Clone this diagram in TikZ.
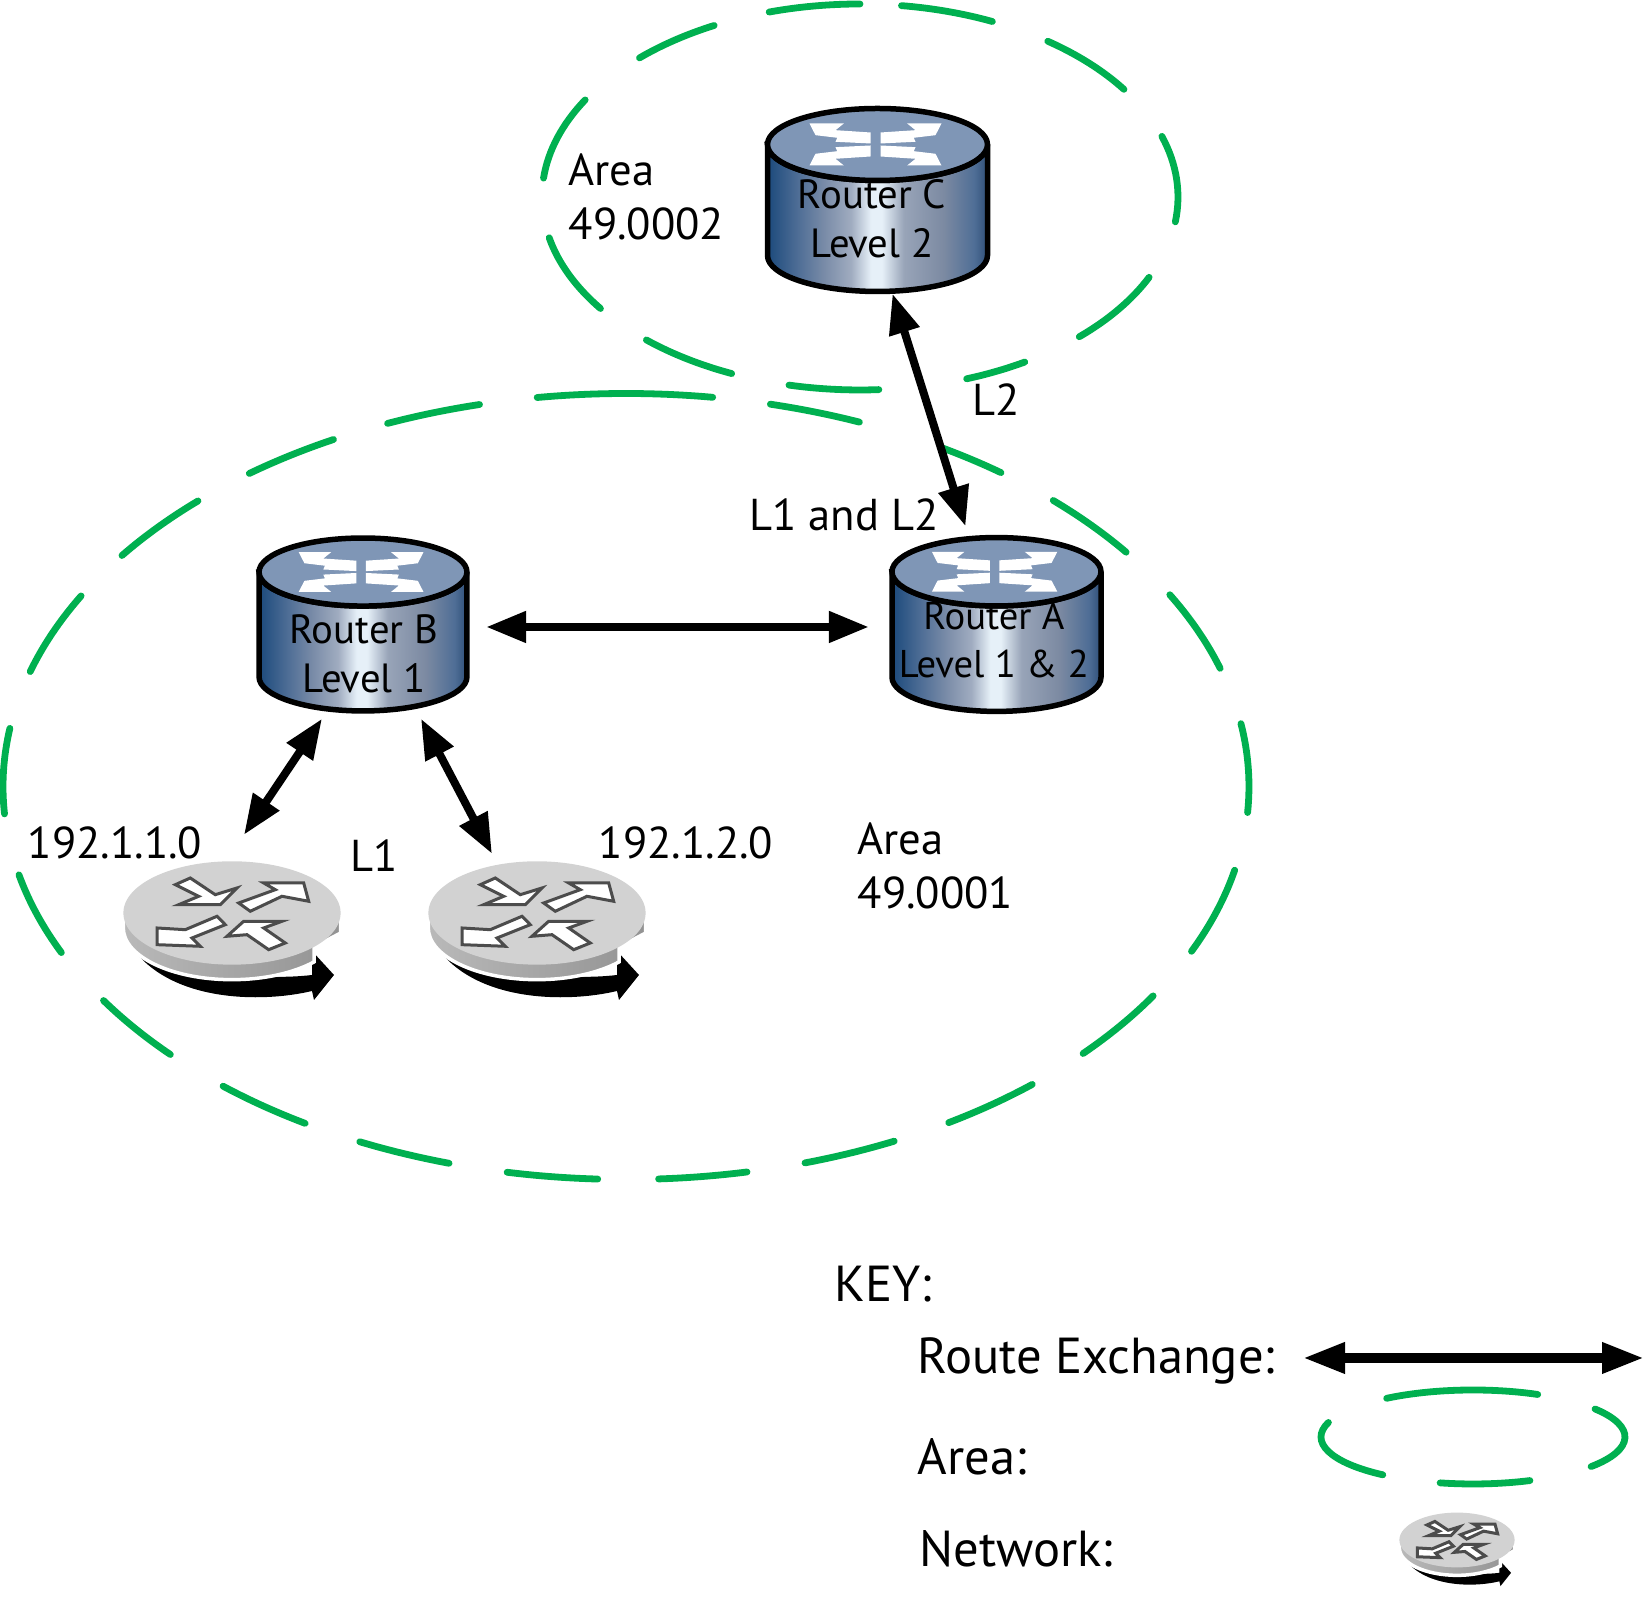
\documentclass[tikz,border=0pt]{standalone}
\usepackage{fontspec}
\setmainfont{PT Sans}
\usetikzlibrary{arrows.meta}

\definecolor{areagreen}{HTML}{00B050}
\definecolor{routertop}{HTML}{7F96B6}
\definecolor{bodya}{HTML}{1C4A7C}
\definecolor{bodyb}{HTML}{4F6E96}
\definecolor{bodyc}{HTML}{7A8CA8}
\definecolor{bodyd}{HTML}{A0ACC0}
\definecolor{bodye}{HTML}{E6F0F8}
\definecolor{bodyf}{HTML}{98A4B8}
\definecolor{bodyg}{HTML}{7C8AA2}
\definecolor{bodyh}{HTML}{2F4F78}
\pgfdeclarehorizontalshading{routerbody}{100bp}{color(0bp)=(bodya); color(25bp)=(bodya); color(32bp)=(bodyb); color(38bp)=(bodyc); color(44bp)=(bodyd); color(48.5bp)=(bodye); color(51bp)=(bodye); color(56bp)=(bodyf); color(65bp)=(bodyg); color(72bp)=(bodyb); color(75bp)=(bodyh); color(100bp)=(bodyh)}

\tikzset{
  arealine/.style={areagreen,line width=.068cm,line cap=round},
  exchange/.style={line width=.08cm,{Triangle[length=.4cm,width=.3cm]}-{Triangle[length=.4cm,width=.3cm]}},
  routerbox/.style={inner sep=0pt,minimum width=2.2cm,minimum height=1.83cm},
  netbox/.style={inner sep=0pt,minimum width=2.2cm,minimum height=1.35cm},
  routertext/.style={align=center,font=\fontsize{11.6}{13.9}\selectfont},
  labeltext/.style={align=left,anchor=west,inner sep=0pt,font=\fontsize{12.7}{15.6}\selectfont},
  keytext/.style={anchor=west,inner sep=0pt,font=\fontsize{14.4}{18}\selectfont},
  router/.pic={
    \draw[line width=.055cm,shading=routerbody] (-1.1,.555) -- (-1.1,-.555) arc (180:360:1.1cm and .36cm) -- (1.1,.555) arc (0:-180:1.1cm and .36cm) -- cycle;
    \draw[line width=.055cm,fill=routertop] (0,.555) ellipse (1.1cm and .36cm);
    \foreach \sx/\sy in {1/1,-1/1,1/-1,-1/-1}
      \fill[white,shift={(-.02,.555)},xscale=\sx,yscale=\sy] (-.66,.21) -- (-.317,.21) -- (-.4,.143) -- (-.05,.12) -- (-.05,.01) -- (-.4,.027) -- (-.383,.067) -- (-.6,.093) -- cycle;
  },
  network/.pic={
    \fill[black] (-1.03,-.3) .. controls (-.5,-.6) and (.3,-.68) .. (.8,-.62) -- (.8,-.38) -- (1.02,-.62) -- (.82,-.87) -- (.8,-.78) .. controls (.3,-.9) and (-.65,-.9) .. (-1.03,-.3) -- cycle;
    \draw[white,line width=.035cm,left color=gray!55,right color=gray!85] (-1.087,0) -- (-1.087,-.15) arc (180:319:1.087cm and .517cm) -- (.82,-.34) -- (1.087,-.2) -- (1.087,0) -- cycle;
    \fill[gray!35] (0,0) ellipse (1.087cm and .517cm);
    \draw[black!70,fill=white,line width=.03cm] (-.567,.283) -- (-.417,.35) -- (-.167,.183) -- (.05,.25) -- (-.117,.083) -- (-.533,.083) -- (-.333,.167) -- cycle;
    \draw[black!70,fill=white,line width=.03cm] (.067,.1) -- (.433,.233) -- (.317,.3) -- (.717,.3) -- (.767,.117) -- (.5,.167) -- (.183,.017) -- cycle;
    \draw[black!70,fill=white,line width=.03cm] (-.15,-.033) -- (-.067,-.117) -- (-.4,-.25) -- (-.317,-.333) -- (-.75,-.317) -- (-.75,-.15) -- (-.467,-.167) -- cycle;
    \draw[black!70,fill=white,line width=.03cm] (-.05,-.233) -- (.117,-.083) -- (.5,-.083) -- (.317,-.15) -- (.533,-.3) -- (.367,-.367) -- (.15,-.217) -- cycle;
  }
}

\begin{document}
\begin{tikzpicture}
\useasboundingbox (0,0) rectangle (16.44,16.02);
% areas
\foreach \a/\b in {98.2/82,76.6/68,59.4/53,46.7/36.6,29.2/17.5,9.2/-3.8,-12.3/-24.8,-32.2/-42.8,-49.3/-58.8,-64.5/-73.3,-78.8/-87,-92.6/-101,-106.5/-115.3,-121/-130.3,-137/-147,-155/-167,-176/-188.5,-197/-209,-216/-226.6,-232.8/-242,-247.5/-256.4}
    \draw[arealine] (6.26,8.155) ++(\a:6.23cm and 3.93cm) arc (\a:\b:6.23cm and 3.93cm);
\foreach \a/\b in {82.5/65.4,53.8/33.9,18.3/-7.4,-24.6/-46.4,-58.8/-70.4,-86.6/-102.9,-113.8/-132.2,-144.7/-167.8,-185.6/-210.2,-226.1/-242.7,-253.4/-270}
    \draw[arealine] (8.6,14.05) ++(\a:3.18cm and 1.93cm) arc (\a:\b:3.18cm and 1.93cm);
% routers
\pic at (8.775,14.02) {router};
\pic[scale=.945] at (3.63,9.775) {router};
\pic[scale=.95] at (9.965,9.775) {router};
\node[routerbox] (routerc) at (8.775,14.035) {};
\node[routerbox,minimum width=2.09cm,minimum height=1.73cm] (routerb) at (3.63,9.775) {};
\node[routerbox,minimum width=2.1cm,minimum height=1.73cm] (routera) at (9.965,9.775) {};
\node[routertext] (textc) at (8.72,13.83) {Router C\\Level 2};
\node[routertext] (textb) at (3.64,9.48) {Router B\\Level 1};
\node[routertext,font=\fontsize{11}{13.9}\selectfont] (texta) at (9.94,9.62) {Router A\\Level 1 \& 2};
% networks
\pic at (2.32,6.89) {network};
\pic at (5.37,6.89) {network};
\node[netbox] (netone) at (2.32,6.73) {};
\node[netbox] (nettwo) at (5.37,6.73) {};
% links
\draw[exchange] ([shift={(.15,-.03)}]routerc.south) -- ([shift={(-.31,.11)}]routera.north);
\draw[exchange] ([shift={(.18,-.025)}]routerb.east) -- ([shift={(-.22,-.025)}]routera.west);
\draw[exchange] ([shift={(-.41,-.07)}]routerb.south) -- ([shift={(.12,.26)}]netone.north);
\draw[exchange] ([shift={(.58,-.07)}]routerb.south) -- ([shift={(-.45,.07)}]nettwo.north);
% labels
\node[labeltext] (areatwo) at (5.68,14.05) {Area\\49.0002};
\node[labeltext,anchor=center] (ltwo) at (9.96,12.02) {L2};
\node[labeltext,anchor=center] (lonetwo) at (8.44,10.87) {L1 and L2};
\node[labeltext,anchor=center] (ipone) at (1.15,7.59) {192.1.1.0};
\node[labeltext,anchor=center] (lone) at (3.74,7.46) {L1};
\node[labeltext,anchor=center] (iptwo) at (6.86,7.59) {192.1.2.0};
\node[labeltext] (areaone) at (8.57,7.36) {Area\\49.0001};
% key
\node[keytext] (key) at (8.34,3.18) {KEY:};
\node[keytext] (keyroute) at (9.17,2.41) {Route Exchange:};
\node[keytext] (keyarea) at (9.17,1.45) {Area:};
\node[keytext] (keynet) at (9.19,.53) {Network:};
\coordinate (keyleft) at (13.03,2.44);
\coordinate (keyright) at (16.44,2.44);
\draw[line width=.095cm,{Triangle[length=.42cm,width=.29cm]}-{Triangle[length=.42cm,width=.29cm]}] (keyleft) -- (keyright);
\foreach \a/\b in {124.6/64.8,36.6/-39,-68/-102.5,-126.4/-198}
    \draw[arealine] (14.73,1.65) ++(\a:1.52cm and .47cm) arc (\a:\b:1.52cm and .47cm);
\pic[scale=.53] at (14.57,.62) {network};
\end{tikzpicture}
\end{document}
